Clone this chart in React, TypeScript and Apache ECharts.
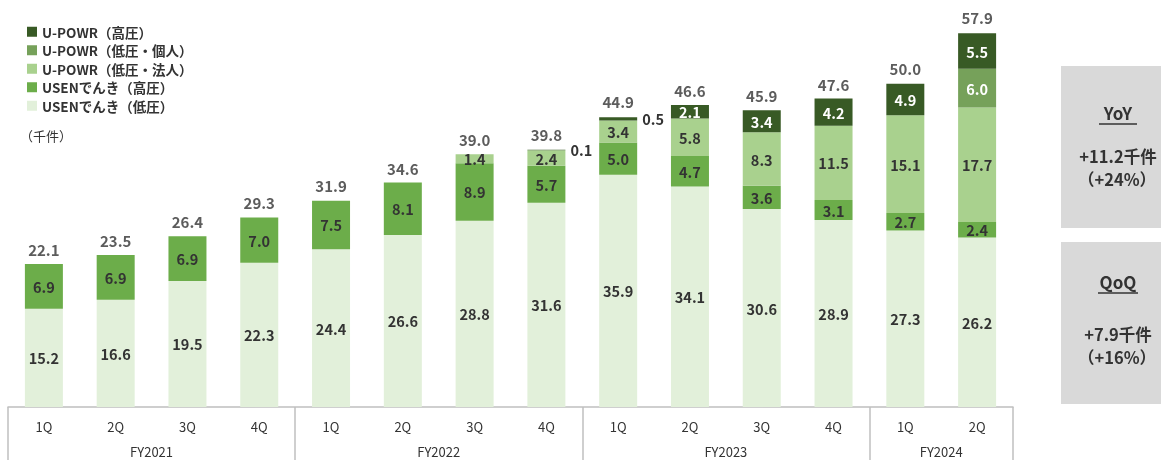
import React, { useEffect, useRef } from "react";
import * as echarts from "echarts";

const quarters = ["1Q", "2Q", "3Q", "4Q", "1Q", "2Q", "3Q", "4Q", "1Q", "2Q", "3Q", "4Q", "1Q", "2Q"];
const fyLabels = ["FY2021", "FY2022", "FY2023", "FY2024"];
const fyCounts = [4, 4, 4, 2];

const usenLow = [15.2, 16.6, 19.5, 22.3, 24.4, 26.6, 28.8, 31.6, 35.9, 34.1, 30.6, 28.9, 27.3, 26.2];
const usenHigh = [6.9, 6.9, 6.9, 7.0, 7.5, 8.1, 8.9, 5.7, 5.0, 4.7, 3.6, 3.1, 2.7, 2.4];
const upowrCorp = [null, null, null, null, null, null, 1.4, 2.4, 3.4, 5.8, 8.3, 11.5, 15.1, 17.7];
const upowrPersonal = [null, null, null, null, null, null, null, null, null, null, null, null, null, 6.0];
const upowrHigh = [null, null, null, null, null, null, null, 0.1, 0.5, 2.1, 3.4, 4.2, 4.9, 5.5];
const totals = [22.1, 23.5, 26.4, 29.3, 31.9, 34.6, 39.0, 39.8, 44.9, 46.6, 45.9, 47.6, 50.0, 57.9];

const FONT = "'Noto Sans CJK JP', 'Noto Sans', sans-serif";
const W = "bold";

export default function App() {
  const ref = useRef<HTMLDivElement>(null);
  useEffect(() => {
    if (!ref.current) return;
    const chart = echarts.init(ref.current, undefined, { renderer: "svg" });

    const fyCenters: number[] = [];
    const fyBounds: number[] = [-0.5];
    let acc = 0;
    fyCounts.forEach((c) => {
      fyCenters.push(acc + c / 2 - 0.5);
      acc += c;
      fyBounds.push(acc - 0.5);
    });

    const mk = (name: string, data: (number | null)[], color: string, textColor: string) => ({
      name,
      type: "bar",
      stack: "total",
      barWidth: 38,
      itemStyle: { color },
      data: data.map((v) =>
        v != null && v < 1
          ? { value: v, label: { position: "right", distance: 5, color: "#333" } }
          : v
      ),
      label: {
        show: true,
        position: "inside",
        color: textColor,
        fontSize: 14.5,
        fontWeight: W,
        fontFamily: FONT,
        formatter: (p: any) => (p.value == null ? "" : Number(p.value).toFixed(1)),
      },
    });

    const txt = (text: string, x: number, y: number, size: number, weight: any) => ({
      type: "text",
      x,
      y,
      style: { text, fontSize: size, fontWeight: weight, fill: "#333", align: "center", verticalAlign: "middle", fontFamily: FONT },
    });

    chart.setOption({
      animation: false,
      textStyle: { fontFamily: FONT },
      legend: {
        orient: "vertical",
        left: 22,
        top: 20,
        itemWidth: 10,
        itemHeight: 10,
        itemGap: 5,
        icon: "rect",
        textStyle: { fontSize: 13.5, color: "#333", fontWeight: W, fontFamily: FONT, lineHeight: 12 },
        data: ["U-POWR（高圧）", "U-POWR（低圧・個人）", "U-POWR（低圧・法人）", "USENでんき（高圧）", "USENでんき（低圧）"],
      },
      grid: { left: 8, right: 148, top: 19, bottom: 53 },
      xAxis: [
        {
          type: "category",
          data: quarters,
          axisLine: { show: true, lineStyle: { color: "#bfbfbf", width: 1.5 } },
          axisTick: { show: false },
          axisLabel: { color: "#333", fontSize: 13, margin: 13, fontFamily: FONT },
        },
        {
          type: "value",
          position: "bottom",
          min: -0.5,
          max: 13.5,
          axisLine: { show: false },
          splitLine: { show: false },
          axisTick: {
            show: true,
            customValues: fyBounds,
            length: 60,
            lineStyle: { color: "#bfbfbf", width: 1.5 },
          },
          axisLabel: {
            show: true,
            customValues: fyCenters,
            margin: 38,
            color: "#333",
            fontSize: 13,
            fontFamily: FONT,
            formatter: (v: number) => {
              const i = fyCenters.findIndex((c) => Math.abs(c - v) < 0.01);
              return i >= 0 ? fyLabels[i] : "";
            },
          },
        },
      ],
      yAxis: { type: "value", min: 0, max: 60, show: false },
      series: [
        mk("USENでんき（低圧）", usenLow, "#e2f0da", "#333"),
        mk("USENでんき（高圧）", usenHigh, "#6cad4a", "#333"),
        mk("U-POWR（低圧・法人）", upowrCorp, "#a9d18e", "#333"),
        mk("U-POWR（低圧・個人）", upowrPersonal, "#76a15a", "#fff"),
        mk("U-POWR（高圧）", upowrHigh, "#385a25", "#fff"),
        {
          name: "total",
          type: "scatter",
          symbolSize: 1,
          itemStyle: { color: "rgba(0,0,0,0)" },
          data: totals,
          label: {
            show: true,
            position: "top",
            distance: 7,
            color: "#333",
            fontSize: 15,
            fontWeight: W,
            fontFamily: FONT,
            formatter: (p: any) => Number(p.value).toFixed(1),
          },
          z: 10,
        },
      ],
      graphic: [
        { type: "text", left: 20, top: 129, style: { text: "（千件）", fontSize: 13, fill: "#333", fontFamily: FONT } },
        { type: "rect", shape: { x: 1061, y: 66, width: 110, height: 162 }, style: { fill: "#d9d9d9" } },
        { type: "rect", shape: { x: 1061, y: 242, width: 110, height: 162 }, style: { fill: "#d9d9d9" } },
        txt("YoY", 1118, 112, 17, "bold"),
        { type: "line", shape: { x1: 1099, y1: 124, x2: 1137, y2: 124 }, style: { stroke: "#333", lineWidth: 1.5 } },
        txt("+11.2千件", 1118, 156, 16.5, W),
        txt("（+24%）", 1117, 179, 16.5, W),
        txt("QoQ", 1118, 281, 17, "bold"),
        { type: "line", shape: { x1: 1098, y1: 293, x2: 1138, y2: 293 }, style: { stroke: "#333", lineWidth: 1.5 } },
        txt("+7.9千件", 1118, 334, 16.5, W),
        txt("（+16%）", 1117, 357, 16.5, W),
      ],
    });
    return () => chart.dispose();
  }, []);
  return <div ref={ref} style={{ position: "fixed", left: 0, top: 0, width: 1161, height: 460 }} />;
}
